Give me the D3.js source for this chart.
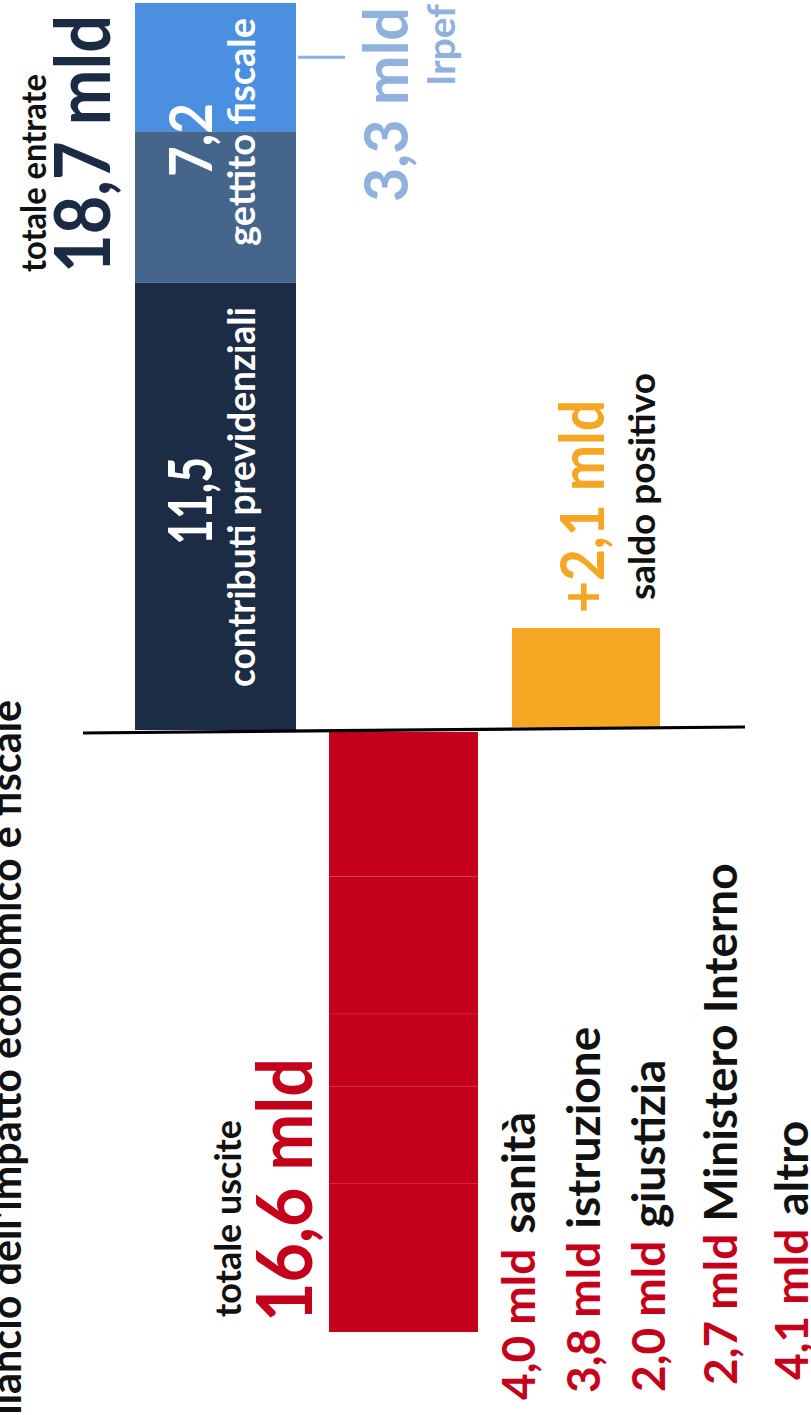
<!DOCTYPE html>
<html><head><meta charset="utf-8">
<script src="https://cdn.jsdelivr.net/npm/d3@7"></script>
<style>
html,body{margin:0;padding:0;background:#fff;overflow:hidden}
svg{display:block}
text{font-family:Lato,"Open Sans",sans-serif;font-weight:700}
</style>
</head><body>
<svg id="c" width="811" height="1415"></svg>
<script>
// ---- data ----
const title = "Bilancio dell'impatto economico e fiscale";
const entrateLabels = ["contributi previdenziali", "altro gettito fiscale", "Irpef"];
const entrateValues = [11.5, 3.9, 3.3];
const entrateTotal = 18.7;
const gettitoFiscale = 7.2;
const usciteCategories = ["sanità", "istruzione", "giustizia", "Ministero Interno", "altro"];
const usciteValues = [4.0, 3.8, 2.0, 2.7, 4.1];
const usciteTotal = 16.6;
const saldo = 2.1;
const barKeys = ["entrate", "uscite", "saldo"];

// ---- layout ----
const svg = d3.select("#c");
const loc = d3.formatLocale({decimal: ",", thousands: ".", grouping: [3], currency: ["", "€"]});
const f1 = loc.format(".1f");

const xExtent = d3.scaleOrdinal().domain(barKeys).range([[135, 296], [329, 478], [512, 660]]);
const yEntrate = d3.scaleLinear().domain([0, entrateTotal]).range([730, 3]);
const yUscite = d3.scaleLinear().domain([0, usciteTotal]).range([732, 1332]);
const ySaldo = d3.scaleLinear().domain([0, saldo]).range([727, 628]);

const entrateColors = ["#1c2c45", "#46658b", "#4a8fe0"];
const RED = "#c4001a", ORANGE = "#f5a623", NAVY = "#1c2b44", LIGHT = "#8fb1dc";

const g = svg.append("g");

// revenue stacked bar
let cum = 0;
const entrateStack = entrateValues.map((v, i) => { const s = {k: entrateLabels[i], y0: cum, y1: cum + v, c: entrateColors[i]}; cum += v; return s; });
const [ex0, ex1] = xExtent("entrate");
g.selectAll("rect.ent").data(entrateStack).join("rect").attr("class", "ent")
  .attr("x", ex0).attr("width", ex1 - ex0)
  .attr("y", d => yEntrate(d.y1)).attr("height", d => yEntrate(d.y0) - yEntrate(d.y1))
  .attr("fill", d => d.c);

// expense stacked bar
cum = 0;
const usciteStack = usciteValues.map((v, i) => { const s = {k: usciteCategories[i], y0: cum, y1: cum + v}; cum += v; return s; });
const [ux0, ux1] = xExtent("uscite");
g.selectAll("rect.usc").data(usciteStack).join("rect").attr("class", "usc")
  .attr("x", ux0).attr("width", ux1 - ux0)
  .attr("y", d => yUscite(d.y0)).attr("height", d => yUscite(d.y1) - yUscite(d.y0))
  .attr("fill", RED);
g.selectAll("line.sep").data(usciteStack.slice(0, -1)).join("line").attr("class", "sep")
  .attr("x1", ux0).attr("x2", ux1)
  .attr("y1", d => yUscite(d.y1)).attr("y2", d => yUscite(d.y1))
  .attr("stroke", "#d8394d").attr("stroke-width", 1).attr("opacity", 0.45);

// saldo bar
const [sx0, sx1] = xExtent("saldo");
g.append("rect").attr("x", sx0).attr("width", sx1 - sx0)
  .attr("y", ySaldo(saldo)).attr("height", ySaldo(0) - ySaldo(saldo)).attr("fill", ORANGE);

// baseline (slightly tilted, as in the original)
g.append("line").attr("x1", 83).attr("x2", 745).attr("y1", 733).attr("y2", 727)
  .attr("stroke", "#000").attr("stroke-width", 3.2);

// Irpef marker
const irpefMid = yEntrate(entrateTotal - entrateValues[2] / 2);
g.append("line").attr("x1", 298).attr("x2", 345)
  .attr("y1", irpefMid - 10).attr("y2", irpefMid - 10)
  .attr("stroke", LIGHT).attr("stroke-width", 3);

// ---- text ----
function vtext(x, y, str, o) {
  const t = svg.append("text")
    .attr("transform", `translate(${x},${y}) rotate(-90)`)
    .attr("font-size", o.size).attr("fill", o.fill || "#111")
    .attr("text-anchor", o.anchor || "start")
    .text(str);
  if (o.weight) t.attr("font-weight", o.weight);
  if (o.len) t.attr("textLength", o.len).attr("lengthAdjust", "spacingAndGlyphs");
  return t;
}

vtext(21, 700, title, {size: 41.3, anchor: "end", fill: "#111"});

vtext(46, 272, "totale entrate", {size: 34, len: 198});
vtext(110, 273, f1(entrateTotal) + " mld", {size: 76, fill: NAVY, len: 258});

vtext(212, 177, f1(gettitoFiscale), {size: 60, fill: "#fff", len: 74});
vtext(255, 246, "gettito fiscale", {size: 38, fill: "#fff", len: 228});
vtext(212, 545, f1(entrateValues[0]), {size: 62, fill: "#fff", len: 88});
vtext(255, 687, entrateLabels[0], {size: 38, fill: "#fff", len: 380});

vtext(408, 202, f1(entrateValues[2]) + " mld", {size: 62, fill: LIGHT, len: 195});
vtext(455, 86, entrateLabels[2], {size: 38, fill: LIGHT, len: 82});

vtext(604, 613, "+" + f1(saldo) + " mld", {size: 62, fill: ORANGE, len: 213});
vtext(655, 600, "saldo positivo", {size: 36, len: 227});

vtext(241, 1317, "totale uscite", {size: 36, len: 197});
vtext(312, 1322, f1(usciteTotal) + " mld", {size: 76, fill: RED, len: 264});

const rowX = [535, 600, 665, 737, 808];
const rowNumY = [1400, 1393, 1392, 1385, 1380];
const rowGap = [15, 13, 13, 12, 13];
usciteCategories.forEach((c, i) => {
  const n = vtext(rowX[i], rowNumY[i], f1(usciteValues[i]) + " mld", {size: 46, fill: RED});
  const w = n.node().getComputedTextLength();
  vtext(rowX[i], rowNumY[i] - w - rowGap[i], c, {size: 46, fill: "#111"});
});
</script>
</body></html>
